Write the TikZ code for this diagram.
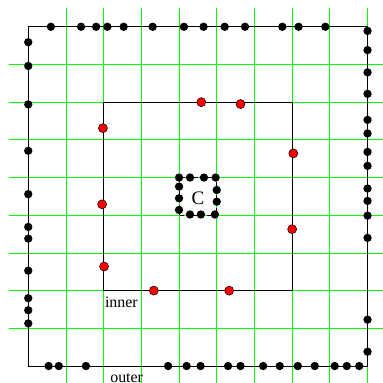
\documentclass[tikz,border=0pt]{standalone}
\usepackage{fontspec}
\setmainfont{Liberation Serif}
\usetikzlibrary{positioning}
\tikzset{
  grid_ln/.style = {draw=green, line width=0.6pt},
  box_ln/.style = {draw=black, line width=0.7pt},
  b_dot/.style = {circle, fill=black, inner sep=0pt, minimum size=6.3pt},
  r_dot/.style = {circle, fill=red, draw=black, line width=0.4pt, inner sep=0pt, minimum size=6.8pt},
  lbl/.style = {inner sep=0pt, anchor=base west, font=\fontsize{12}{14}\selectfont}
}

\begin{document}
\begin{tikzpicture}
\useasboundingbox (-0.75,-0.45) rectangle (9.41,9.71);

% grid
\foreach \x in {1,...,9}
  \draw[grid_ln] (\x,-0.5) -- (\x,9.5);
\foreach \y in {1,...,8}
  \draw[grid_ln] (-0.5,\y) -- (9.5,\y);

% boxes
\draw[box_ln] (0,0) rectangle (9,9);
\draw[box_ln] (2,2) rectangle (7,7);
\draw[box_ln, densely dashed] (4,4) rectangle (5,5);

\node [inner sep=0pt, font=\fontsize{14.4}{16}\selectfont] (c) at (4.5,4.44) {C};

% outer dots
\foreach \x [count=\i] in {0.60,1.40,1.80,2.10,2.53,3.30,4.13,4.65,5.21,5.75,6.74,7.17,7.88}
  \node [b_dot] (ot\i) at (\x,9) {};
\foreach \y [count=\i] in {8.59,7.96,6.94,5.71,4.56,3.69,3.38,2.53,1.80,1.48,1.13}
  \node [b_dot] (ol\i) at (0,\y) {};
\foreach \y [count=\i] in {8.89,8.38,7.79,7.22,6.53,6.17,5.68,5.31,4.71,4.38,3.99,3.40,1.23,0.38}
  \node [b_dot] (or\i) at (9,\y) {};
\foreach \x [count=\i] in {0.54,0.81,1.53,3.71,4.20,4.57,5.30,5.63,6.23,6.67,7.15,7.60,8.13,8.45,8.78}
  \node [b_dot] (ob\i) at (\x,0) {};

% inner dots
\foreach \p [count=\i] in {(4.59,7.0),(5.63,6.95),(1.98,6.31),(1.96,4.29),(2.01,2.64),
                           (3.33,2.0),(5.33,2.0),(7.03,5.64),(7.0,3.63)}
  \node [r_dot] (in\i) at \p {};

% dots around C
\foreach \p [count=\i] in {(4.0,5.0),(4.29,5.0),(4.66,5.0),(4.97,5.0),
                           (4.0,4.76),(4.0,4.45),(4.0,4.14),
                           (4.29,4.02),(4.58,4.02),(4.95,4.02),
                           (5.0,4.67),(5.0,4.36)}
  \node [b_dot] (cd\i) at \p {};

\node [lbl] (inner) at (2.03,1.55) {inner};
\node [lbl] (outer) at (2.17,-0.44) {outer};
\end{tikzpicture}
\end{document}
